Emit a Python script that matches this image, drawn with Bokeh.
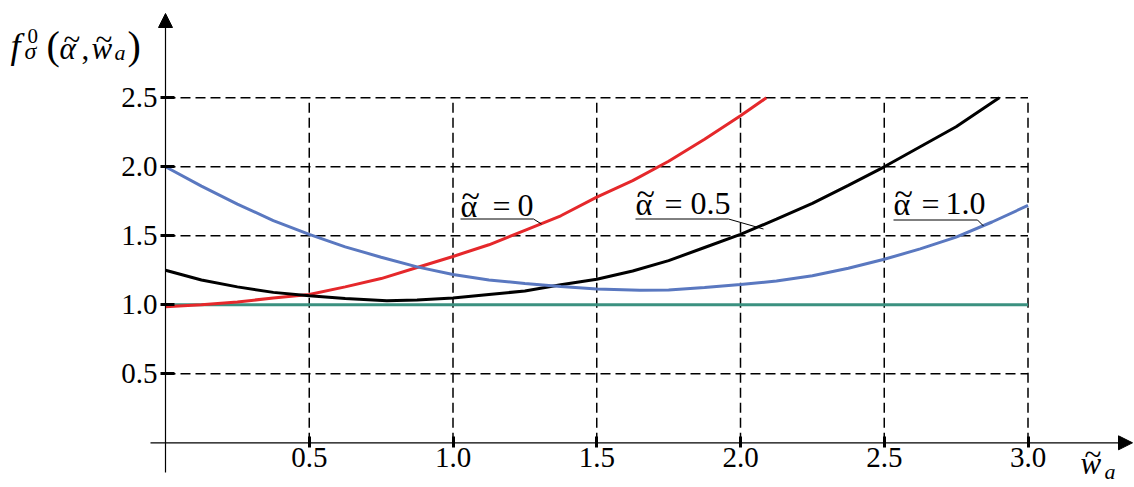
from bokeh.plotting import figure
from bokeh.models import (Range1d, LinearAxis, FixedTicker, PrintfTickFormatter,
                          Arrow, NormalHead, Label)
from bokeh.embed import file_html
from bokeh.resources import INLINE

# ---------------- data ----------------
x_ticks = [0.5, 1.0, 1.5, 2.0, 2.5, 3.0]
y_ticks = [0.5, 1.0, 1.5, 2.0, 2.5]

# alpha = 0 (red)
x_a0 = [0, 0.125, 0.25, 0.375, 0.5, 0.625, 0.75, 0.875, 1.0, 1.125, 1.25, 1.375,
        1.5, 1.625, 1.75, 1.875, 2.0, 2.09]
y_a0 = [0.985, 1.0, 1.02, 1.05, 1.075, 1.13, 1.19, 1.27, 1.35, 1.435, 1.54, 1.645,
        1.78, 1.9, 2.04, 2.2, 2.37, 2.5]

# alpha = 0.5 (black)
x_a05 = [0, 0.125, 0.25, 0.375, 0.5, 0.625, 0.77, 0.875, 1.0, 1.125, 1.25, 1.375,
         1.5, 1.625, 1.75, 1.875, 2.0, 2.125, 2.25, 2.375, 2.5, 2.625, 2.75, 2.9]
y_a05 = [1.25, 1.18, 1.13, 1.09, 1.065, 1.045, 1.03, 1.035, 1.05, 1.075, 1.10, 1.145,
         1.185, 1.245, 1.32, 1.415, 1.51, 1.62, 1.735, 1.865, 2.0, 2.145, 2.29, 2.5]

# alpha = 1.0 (blue)
x_a1 = [0, 0.125, 0.25, 0.375, 0.5, 0.625, 0.75, 0.875, 1.0, 1.125, 1.25, 1.375,
        1.5, 1.65, 1.75, 1.875, 2.0, 2.125, 2.25, 2.375, 2.5, 2.625, 2.75, 2.875, 3.0]
y_a1 = [2.0, 1.86, 1.73, 1.61, 1.51, 1.42, 1.345, 1.275, 1.22, 1.18, 1.155, 1.132,
        1.115, 1.105, 1.108, 1.125, 1.147, 1.172, 1.21, 1.265, 1.33, 1.405, 1.49, 1.6, 1.72]

# reference level (green)
x_ref = [0, 3.0]
y_ref = [1.0, 1.0]

# ---------------- geometry ----------------
W, H = 1134, 487
X0_PX, SX = 165.0, 287.5      # px of x=0, px per unit
Y0_PX, SY = 442.3, 138.0      # px of y=0, px per unit
xs = -X0_PX / SX
xe = xs + W / SX
ye = Y0_PX / SY
ys = ye - H / SY


def px_x(px):
    return (px - X0_PX) / SX


def px_y(py):
    return (Y0_PX - py) / SY


FONT = "Liberation Serif"

p = figure(width=W, height=H, x_range=Range1d(xs, xe), y_range=Range1d(ys, ye),
           output_backend="svg", toolbar_location=None,
           x_axis_location=None, y_axis_location=None, min_border=0,
           outline_line_color=None, background_fill_color="white")
p.grid.visible = False

# dashed grid limited to the data box
p.segment(x0=x_ticks, y0=[0] * len(x_ticks), x1=x_ticks, y1=[max(y_ticks)] * len(x_ticks),
          line_color="black", line_width=1.5, line_dash="10 5")
p.segment(x0=[0] * len(y_ticks), y0=y_ticks, x1=[max(x_ticks)] * len(y_ticks), y1=y_ticks,
          line_color="black", line_width=1.5, line_dash="10 5")

# axes at fixed positions
xaxis = LinearAxis(fixed_location=0, ticker=FixedTicker(ticks=x_ticks),
                   formatter=PrintfTickFormatter(format="%.1f"),
                   axis_line_color=None, major_tick_in=6, major_tick_out=5,
                   major_tick_line_width=3, minor_tick_line_color=None,
                   major_label_text_font=FONT, major_label_text_font_size="29px",
                   major_label_text_color="black", major_label_standoff=0)
p.add_layout(xaxis, "below")
yaxis = LinearAxis(fixed_location=0, ticker=FixedTicker(ticks=y_ticks),
                   formatter=PrintfTickFormatter(format="%.1f"),
                   axis_line_color=None, major_tick_in=9, major_tick_out=5,
                   major_tick_line_width=3, minor_tick_line_color=None,
                   major_label_text_font=FONT, major_label_text_font_size="29px",
                   major_label_text_color="black", major_label_standoff=3)
p.add_layout(yaxis, "left")

# axis arrows
p.add_layout(Arrow(end=NormalHead(size=14, fill_color="black", line_color="black"),
                   x_start=0, y_start=px_y(472), x_end=0, y_end=px_y(13),
                   line_color="black", line_width=1.2))
p.add_layout(Arrow(end=NormalHead(size=14, fill_color="black", line_color="black"),
                   x_start=px_x(150), y_start=0, x_end=px_x(1132), y_end=0,
                   line_color="black", line_width=1.2))

# curves
p.line(x_ref, y_ref, line_color="#3b9180", line_width=3)
p.line(x_a0, y_a0, line_color="#e5282b", line_width=3)
p.line(x_a05, y_a05, line_color="black", line_width=3)
p.line(x_a1, y_a1, line_color="#5a78c0", line_width=3)


def lab(txt, lx, ly, size, style="normal"):
    # ly is the wanted baseline in picture pixels; compensate the renderer's offset
    fs = float(size.replace("px", ""))
    p.add_layout(Label(x=px_x(lx), y=px_y(ly - 0.3 * fs), text=txt, text_font=FONT,
                       text_font_size=size, text_font_style=style,
                       text_baseline="alphabetic", text_color="black"))


# curve labels (alpha with tilde above, "=", value) with leader lines
curve_labels = [
    # alpha_left, eq_left, val_left, value, baseline, underline_end, y_ul, end_x, end_y
    (460, 492, 517, "0", 215, 533, 218.5, 541, 223.5),
    (635, 664, 690, "0.5", 213, 728, 218.5, 763, 228.5),
    (893, 921, 945, "1.0", 213, 977, 219.5, 983, 225.5),
]
for ax_, ex_, vx_, val, bl, ux, uy, ex, ey in curve_labels:
    lab("\u03b1", ax_, bl, "32px")
    lab("~", ax_ + 1, bl - 10, "34px")
    lab("=", ex_, bl, "32px")
    lab(val, vx_, bl, "32px")
    p.line([px_x(ax_), px_x(ux), px_x(ex)], [px_y(uy), px_y(uy), px_y(ey)],
           line_color="black", line_width=1)

# y-axis title: f_sigma^0 (alpha~, w~_a)
lab("f", 10, 56, "36px", "italic")
lab("0", 27, 42, "21px")
lab("\u03c3", 24, 58, "24px", "italic")
lab("(", 46, 57, "40px")
lab("\u03b1", 59, 57, "31px", "italic")
lab("~", 63, 48, "31px")
lab(",", 81, 57, "31px")
lab("w", 91, 57, "31px", "italic")
lab("~", 95, 48, "31px")
lab("a", 114, 59, "22px", "italic")
lab(")", 127, 57, "40px")

# x-axis title: w~_a
lab("w", 1080, 472, "31px", "italic")
lab("~", 1084, 463, "31px")
lab("a", 1104, 478, "22px", "italic")

open("out.html", "w").write(file_html(p, INLINE))
